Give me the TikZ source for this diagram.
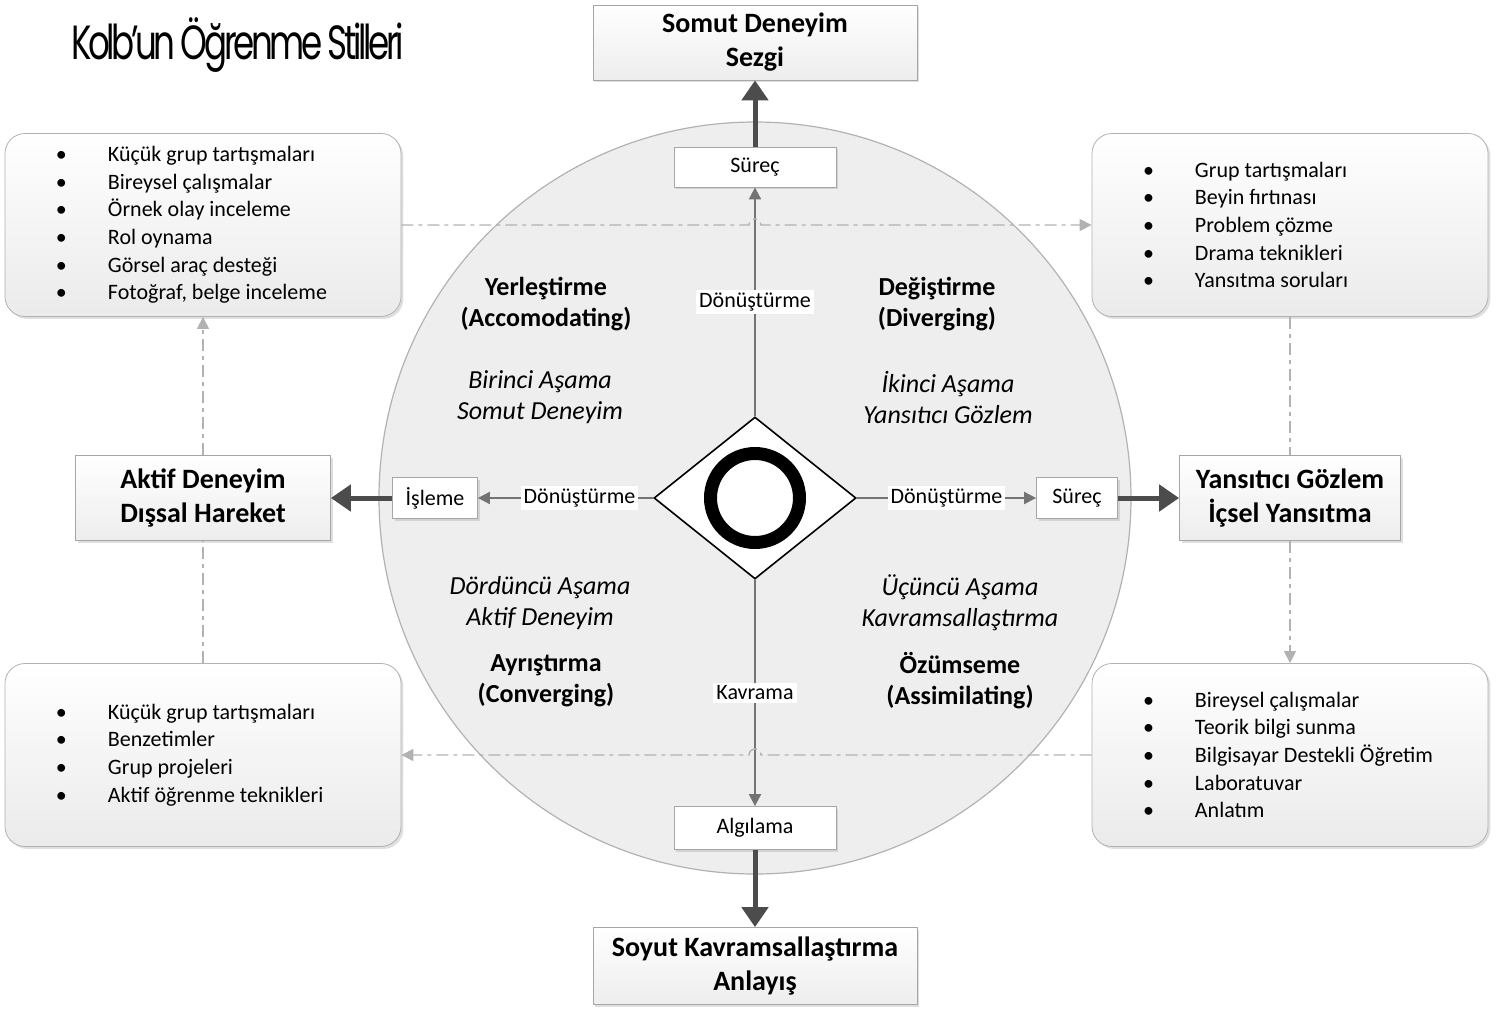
\documentclass[tikz,border=0pt]{standalone}
\usepackage{fontspec}
\setmainfont{Carlito}
\newfontfamily\titlefont[LetterSpace=-10]{Poppins}
\usetikzlibrary{arrows.meta,positioning,shapes.geometric,shadows,backgrounds}

\newcommand\itm[1]{\mbox{\makebox[26pt][l]{\textbullet}#1}}

\begin{document}
\begin{tikzpicture}
  [on grid,>={Triangle[length=6pt,width=6pt]},
   softshadow/.style={drop shadow={shadow xshift=1.2pt,shadow yshift=-1.2pt,opacity=0.25}},
   stage/.style={rectangle,draw=gray!70,top color=white,bottom color=gray!14,
     font=\fontsize{14}{17}\selectfont\bfseries,align=center,inner sep=0pt,softshadow},
   phase/.style={rectangle,draw=gray!70,fill=white,font=\fontsize{11}{13}\selectfont,
     inner sep=0pt,softshadow},
   tips/.style={rectangle,rounded corners=10pt,draw=gray!60,top color=white,bottom color=gray!16,
     minimum height=91.5pt,text width=147pt,inner xsep=25.5pt,align=flush left,
     font=\fontsize{11}{13.8}\selectfont,softshadow},
   style name/.style={font=\fontsize{13}{15.5}\selectfont\bfseries,align=center},
   stage name/.style={font=\fontsize{13}{15.5}\selectfont\itshape,align=center},
   flow/.style={draw=black!55,line width=1pt,->},
   bigflow/.style={draw=black!70,line width=2.5pt,-{Triangle[length=10pt,width=13pt]}},
   loopline/.style={draw=gray!60,line width=0.7pt,dash pattern=on 6pt off 2.5pt on 2pt off 2.5pt},
   lbl/.style={fill=white,inner sep=1.5pt,font=\fontsize{11}{13}\selectfont}]

  \useasboundingbox (-377.5pt,249pt) rectangle (374pt,-255pt);

  % centre
  \node [diamond,draw,fill=white,line width=0.8pt,minimum width=101pt,minimum height=81pt,
    inner sep=0pt] (core) {};
  \node [circle,draw,line width=6.5pt,minimum size=44.5pt,inner sep=0pt] (ring) at (core) {};

  % stages
  \node [phase,minimum width=81pt,minimum height=20pt]     (sur1)  [above=165.5pt of core] {Süreç};
  \node [stage,minimum width=162pt,minimum height=37.5pt]  (somut) [above=62.25pt of sur1] {Somut Deneyim\\Sezgi};
  \node [phase,minimum width=81pt,minimum height=21.5pt]   (alg)   [below=165pt of core]   {Algılama};
  \node [stage,minimum width=162pt,minimum height=38.5pt]  (soyut) [below=69pt of alg]     {Soyut Kavramsallaştırma\\Anlayış};
  \node [phase,minimum width=42.5pt,minimum height=20.5pt] (isl)   [left=160pt of core]    {İşleme};
  \node [stage,minimum width=127.5pt,minimum height=42.5pt] (aktif) [left=116pt of isl]    {Aktif Deneyim\\Dışsal Hareket};
  \node [phase,minimum width=40.5pt,minimum height=20.5pt] (sur2)  [right=161pt of core]   {Süreç};
  \node [stage,minimum width=110.5pt,minimum height=42.5pt] (yans) [right=106.5pt of sur2] {Yansıtıcı Gözlem\\İçsel Yansıtma};

  % methods
  \node [tips] (tl) [above=136.5pt of aktif]
    {\itm{Küçük grup tartışmaları}\\\itm{Bireysel çalışmalar}\\\itm{Örnek olay inceleme}\\
     \itm{Rol oynama}\\\itm{Görsel araç desteği}\\\itm{Fotoğraf, belge inceleme}};
  \node [tips] (tr) [above=136.5pt of yans]
    {\itm{Grup tartışmaları}\\\itm{Beyin fırtınası}\\\itm{Problem çözme}\\
     \itm{Drama teknikleri}\\\itm{Yansıtma soruları}};
  \node [tips] (br) [below=128.5pt of yans]
    {\itm{Bireysel çalışmalar}\\\itm{Teorik bilgi sunma}\\\itm{Bilgisayar Destekli Öğretim}\\
     \itm{Laboratuvar}\\\itm{Anlatım}};
  \node [tips] (bl) [below=128.5pt of aktif]
    {\itm{Küçük grup tartışmaları}\\\itm{Benzetimler}\\\itm{Grup projeleri}\\
     \itm{Aktif öğrenme teknikleri}};

  % quadrants
  \node [style name] (yer)    [above left=96.75pt and 104.5pt of core]  {Yerleştirme\\(Accomodating)};
  \node [stage name] (asama1) [above left=50.5pt and 107.5pt of core]   {Birinci Aşama\\Somut Deneyim};
  \node [style name] (deg)    [above right=96.75pt and 91pt of core]    {Değiştirme\\(Diverging)};
  \node [stage name] (asama2) [above right=50.5pt and 96.5pt of core]   {İkinci Aşama\\Yansıtıcı Gözlem};
  \node [stage name] (asama4) [below left=52.5pt and 107.5pt of core]   {Dördüncü Aşama\\Aktif Deneyim};
  \node [style name] (ayr)    [below left=91.25pt and 104.5pt of core]  {Ayrıştırma\\(Converging)};
  \node [stage name] (asama3) [below right=52.5pt and 102.5pt of core]  {Üçüncü Aşama\\Kavramsallaştırma};
  \node [style name] (ozu)    [below right=91.25pt and 102.5pt of core] {Özümseme\\(Assimilating)};

  \node [anchor=west,font=\titlefont\fontsize{24}{24}\selectfont] (title) at (-345.5pt,226.5pt)
    {\scalebox{0.71}[1]{Kolb’un Öğrenme Stilleri}};

  \begin{scope}[on background layer]
    \node [circle,draw=gray!60,fill=gray!13,line width=0.6pt,minimum size=376pt] (wheel) at (core) {};
  \end{scope}

  \draw [flow] (core.north) -- node [lbl] {Dönüştürme} (sur1.south);
  \draw [flow] (core.south) -- node [lbl] {Kavrama} (alg.north);
  \draw [flow] (core.west) -- node [lbl,pos=0.42] {Dönüştürme} (isl.east);
  \draw [flow] (core.east) -- node [lbl] {Dönüştürme} (sur2.west);

  \draw [bigflow] (sur1) -- (somut);
  \draw [bigflow] (alg) -- (soyut);
  \draw [bigflow] (isl) -- (aktif);
  \draw [bigflow] (sur2) -- (yans);

  \draw [loopline,->] (tl.east) -- ([xshift=-3pt]tl.east -| core.center)
    arc [start angle=180,end angle=0,radius=3pt] -- (tr.west);
  \draw [loopline] (tr) -- (yans);
  \draw [loopline,->] (yans) -- (br);
  \draw [loopline,->] (br.west) -- ([xshift=3pt]br.west -| core.center)
    arc [start angle=0,end angle=180,radius=3pt] -- (bl.east);
  \draw [loopline] (bl) -- (aktif);
  \draw [loopline,->] (aktif) -- (tl);
\end{tikzpicture}
\end{document}
